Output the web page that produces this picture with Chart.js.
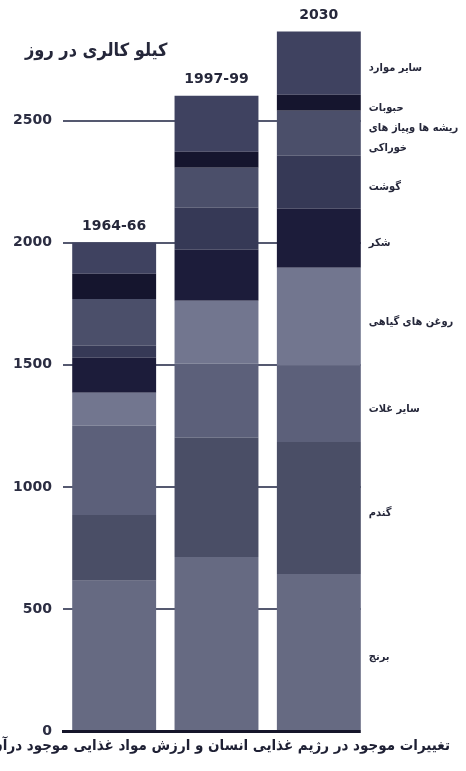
<!DOCTYPE html>
<html>
<head>
<meta charset="utf-8">
<script src="https://cdn.jsdelivr.net/npm/chart.js@4/dist/chart.umd.min.js"></script>
<style>
	body { margin: 0; background: #fff; }
	#wrap { position: relative; width: 466px; height: 771px; overflow: hidden; background: #fff; }
	#title { position: absolute; left: 25px; top: 39px; font: bold 18px "DejaVu Sans Condensed", "DejaVu Sans", sans-serif; color: #25273a; direction: rtl; white-space: nowrap; }
	#caption { position: absolute; right: 16px; top: 736px; font: bold 15px "DejaVu Sans Condensed", "DejaVu Sans", sans-serif; color: #1e2034; direction: rtl; white-space: nowrap; }
</style>
</head>
<body>
<div id="wrap">
	<canvas id="foodChart" width="466" height="771"></canvas>
	<div id="title">کیلو کالری در روز</div>
	<div id="caption">تغییرات موجود در رژیم غذایی انسان و ارزش مواد غذایی موجود درآن</div>
</div>
<script>
	// 기간
	const periods = ["1964-66", "1997-99", "2030"];

	// 항목 (아래에서 위로)
	const categories = ["برنج", "گندم", "سایر غلات", "روغن های گیاهی", "شکر", "گوشت", "ریشه ها وپیاز های\nخوراکی", "حبوبات", "سایر موارد"];

	// kcal / day
	const rice = [615, 713, 643];
	const wheat = [270, 488, 541];
	const otherCereals = [365, 303, 312];
	const vegOils = [135, 258, 401];
	const sugar = [144, 209, 242];
	const meat = [49, 172, 217];
	const roots = [192, 164, 185];
	const pulses = [103, 66, 65];
	const others = [127, 229, 259];

	const yTicks = [0, 500, 1000, 1500, 2000, 2500];

	const seriesValues = [rice, wheat, otherCereals, vegOils, sugar, meat, roots, pulses, others];
	const seriesColors = ["#666a82", "#4a4e66", "#5c607a", "#72768f", "#1c1c3a", "#363956", "#4b4f6a", "#15152e", "#3f4260"];

	// 오른쪽 막대 뒤 격자선 가리기
	const trimPlugin = {
		id: "trimPlugin",
		beforeDatasetsDraw: function(chart) {
			const el = chart.getDatasetMeta(0).data[periods.length - 1];
			const ctx = chart.ctx;
			const x0 = el.x + el.width / 2;
			ctx.save();
			ctx.fillStyle = "#fff";
			ctx.fillRect(x0, chart.chartArea.top, chart.width - x0, chart.chartArea.bottom - chart.chartArea.top + 4);
			ctx.restore();
		}
	}; // trimPlugin

	// 막대 위 기간 라벨 + 오른쪽 항목 라벨
	const labelPlugin = {
		id: "labelPlugin",
		afterDatasetsDraw: function(chart) {
			const ctx = chart.ctx;
			const lastMeta = chart.getDatasetMeta(chart.data.datasets.length - 1);
			ctx.save();
			ctx.fillStyle = "#25273a";
			ctx.font = "bold 14px 'DejaVu Sans', sans-serif";
			ctx.textAlign = "center";
			ctx.textBaseline = "bottom";
			for(let i = 0; i < periods.length; i++) {
				const bar = lastMeta.data[i];
				ctx.fillText(periods[i], bar.x, bar.y - 9);
			} // end for

			ctx.font = "bold 11px 'DejaVu Sans Condensed', 'DejaVu Sans', sans-serif";
			ctx.direction = "rtl";
			ctx.textBaseline = "middle";
			const last = periods.length - 1;
			for(let d = 0; d < chart.data.datasets.length; d++) {
				const el = chart.getDatasetMeta(d).data[last];
				const lines = categories[d].split("\n");
				const cy = (el.y + el.base) / 2 + 5;
				const x = el.x + el.width / 2 + 8;
				for(let l = 0; l < lines.length; l++) {
					const w = ctx.measureText(lines[l]).width;
					ctx.textAlign = "right";
					ctx.fillText(lines[l], x + w, cy + (l - (lines.length - 1) / 2) * 20);
				} // end for
			} // end for
			ctx.restore();
		}
	}; // labelPlugin

	const datasets = [];
	for(let i = 0; i < seriesValues.length; i++) {
		datasets.push({
			label: categories[i],
			data: seriesValues[i],
			backgroundColor: seriesColors[i],
			borderWidth: 0,
			barPercentage: 0.82,
			categoryPercentage: 1.0
		});
	} // end for

	new Chart(document.getElementById("foodChart"), {
		type: "bar",
		data: { labels: periods, datasets: datasets },
		plugins: [trimPlugin, labelPlugin],
		options: {
			responsive: false,
			devicePixelRatio: 1,
			animation: false,
			layout: { padding: { left: 0, right: 96, top: 23, bottom: 40 } },
			plugins: {
				legend: { display: false },
				tooltip: { enabled: false }
			},
			scales: {
				x: {
					stacked: true,
					ticks: { display: false },
					grid: { display: false },
					border: { display: true, color: "#15152a", width: 3 },
					afterFit: function(scale) { scale.height = 0; }
				},
				y: {
					stacked: true,
					min: 0,
					max: 2900,
					afterBuildTicks: function(scale) {
						scale.ticks = yTicks.map(function(v) { return { value: v }; });
					},
					afterFit: function(scale) { scale.width = 63; },
					ticks: {
						padding: 11,
						color: "#2b2d42",
						font: { family: "DejaVu Sans", weight: "bold", size: 14 },
						callback: function(v) { return String(v); }
					},
					grid: { color: "#555970", lineWidth: 2, drawTicks: false },
					border: { display: false }
				}
			}
		}
	}); // end chart
</script>
</body>
</html>
